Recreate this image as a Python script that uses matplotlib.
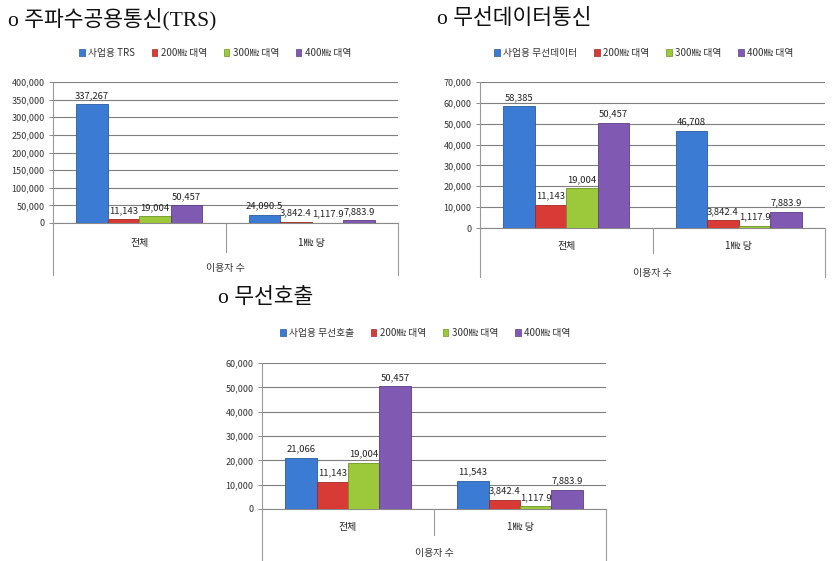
import matplotlib
matplotlib.use("Agg")
import matplotlib.pyplot as plt
from matplotlib.lines import Line2D
from matplotlib.patches import Patch
from matplotlib.transforms import blended_transform_factory
import numpy as np

plt.rcParams['font.family'] = ['Noto Sans CJK KR', 'DejaVu Sans']

# ---------------- data ----------------
categories = ['전체', '1㎒ 당']
xlabel = '이용자 수'
band_labels = ['200㎒ 대역', '300㎒ 대역', '400㎒ 대역']

trs_title = 'o 주파수공용통신(TRS)'
trs_first = '사업용 TRS'
trs_total = [337267, 11143, 19004, 50457]
trs_per = [24090.5, 3842.4, 1117.9, 7883.9]
trs_ticks = [0, 50000, 100000, 150000, 200000, 250000, 300000, 350000, 400000]

data_title = 'o 무선데이터통신'
data_first = '사업용 무선데이터'
data_total = [58385, 11143, 19004, 50457]
data_per = [46708, 3842.4, 1117.9, 7883.9]
data_ticks = [0, 10000, 20000, 30000, 40000, 50000, 60000, 70000]

call_title = 'o 무선호출'
call_first = '사업용 무선호출'
call_total = [21066, 11143, 19004, 50457]
call_per = [11543, 3842.4, 1117.9, 7883.9]
call_ticks = [0, 10000, 20000, 30000, 40000, 50000, 60000]

colors = ['#3b7bd4', '#d83b36', '#9cc83c', '#8059b2']
edges = ['#2a5a9e', '#a02824', '#6f9426', '#5b3e85']

W, H = 832, 561
fig = plt.figure(figsize=(W / 100, H / 100), dpi=100)


def fx(x):
    return x / W


def fy(y):
    return 1 - y / H


def fmt(v):
    if float(v).is_integer():
        return f"{int(v):,}"
    return f"{v:,.1f}"


def vline(x, y0, y1, color='#9a9a9a', lw=0.8):
    fig.add_artist(Line2D([fx(x), fx(x)], [fy(y0), fy(y1)], transform=fig.transFigure,
                          color=color, lw=lw))


def panel(box, total, per, ticks, first_label, title, title_xy, legend_xy,
          sep_b, outer_b, cat_y, xl_y):
    l, r, t, b = box
    ax = fig.add_axes([fx(l), fy(b), (r - l) / W, (b - t) / H])
    series = [first_label] + band_labels
    bw = 0.1826
    x = np.arange(len(categories))
    for i in range(4):
        vals = [total[i], per[i]]
        off = (i - 1.5) * bw
        ax.bar(x + off, vals, width=bw, color=colors[i], edgecolor=edges[i],
               linewidth=0.6, zorder=3)
        for xi, v in zip(x, vals):
            ax.annotate(fmt(v), (xi + off, v), xytext=(0, 3), textcoords='offset points',
                        ha='center', va='bottom', fontsize=6.8, color='#222222', zorder=4)
    ax.set_xlim(-0.5, 1.5)
    ax.set_ylim(0, ticks[-1])
    ax.set_yticks(ticks)
    ax.set_yticklabels([fmt(tk) for tk in ticks], fontsize=6.5, color='#333333')
    ax.set_xticks([])
    ax.yaxis.grid(True, color='#7f7f7f', lw=0.8, zorder=0)
    ax.tick_params(axis='y', length=3, width=0.7, color='#8a8a8a', pad=3)
    for s in ['top', 'right']:
        ax.spines[s].set_visible(False)
    ax.spines['left'].set_color('#9a9a9a')
    ax.spines['left'].set_linewidth(0.8)
    ax.spines['bottom'].set_color('#8a8a8a')
    ax.spines['bottom'].set_linewidth(0.8)
    ax.set_facecolor('white')

    # category frame lines below the plot
    vline(l, b, outer_b)
    vline(r, b, outer_b)
    vline((l + r) / 2, b, sep_b)
    tr = blended_transform_factory(ax.transData, fig.transFigure)
    for xi, c in zip(x, categories):
        ax.text(xi, fy(cat_y), c, transform=tr, ha='center', va='center',
                fontsize=7.2, color='#222222')
    fig.text(fx((l + r) / 2), fy(xl_y), xlabel, ha='center', va='center',
             fontsize=7.2, color='#333333')

    # title
    fig.text(fx(title_xy[0]), fy(title_xy[1]), title, ha='left', va='center',
             fontsize=15.5, family=['Liberation Serif', 'Noto Sans CJK KR'], color='#111111')

    # legend
    handles = [Patch(facecolor=colors[i], edgecolor=edges[i], linewidth=0.5) for i in range(4)]
    fig.legend(handles, series, loc='center', bbox_to_anchor=(fx(legend_xy[0]), fy(legend_xy[1])),
               ncol=4, frameon=False, fontsize=7, handlelength=0.6, handleheight=0.6,
               handletextpad=0.35, columnspacing=1.7, borderaxespad=0,
               labelcolor='#333333')
    return ax


panel((53, 398, 82, 223), trs_total, trs_per, trs_ticks, trs_first, trs_title,
      (8, 19), (215, 53), 252, 275, 243, 268)
panel((480, 825, 82, 228), data_total, data_per, data_ticks, data_first, data_title,
      (437, 19), (644, 53), 253, 277, 246, 273)
panel((262, 606, 363, 509), call_total, call_per, call_ticks, call_first, call_title,
      (218, 298), (425, 333), 535, 561, 527, 553)

fig.savefig('out.png', dpi=100, facecolor='white')
